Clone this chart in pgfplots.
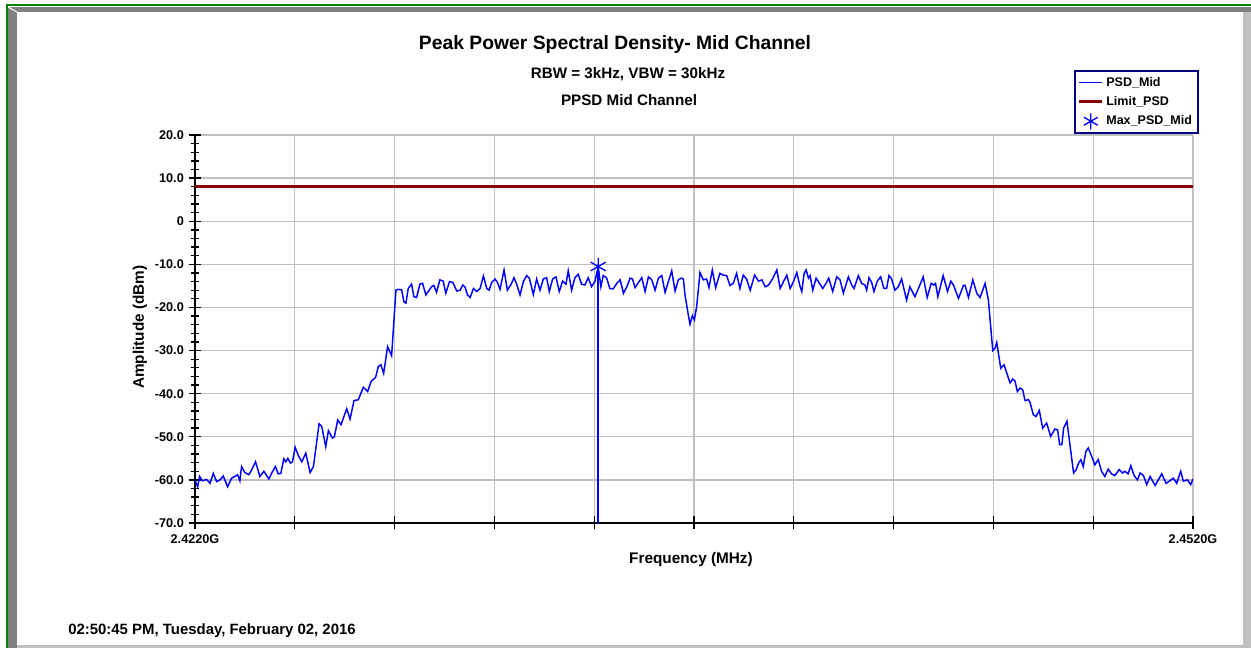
\documentclass[border=0pt]{standalone}
\usepackage{pgfplots}
\pgfplotsset{compat=1.18}
\usepackage{fontspec}
\setmainfont{Liberation Sans}
\definecolor{frgreen}{RGB}{0,128,0}
\definecolor{bevel}{RGB}{128,128,128}
\definecolor{lgray}{RGB}{192,192,192}
\definecolor{limred}{RGB}{139,0,0}
\definecolor{navyb}{RGB}{0,0,128}
\newcommand\fs[1]{\fontsize{#1}{#1}\selectfont}
\begin{document}
\begin{tikzpicture}[x=0.75pt,y=0.75pt]
\useasboundingbox (0,0) rectangle (1251,648);
\fill[white] (0,0) rectangle (1251,648);
\fill[bevel] (8,636) rectangle (1251,641);
\fill[bevel] (8,0) rectangle (17,641);
\fill[lgray] (1243,0) rectangle (1251,636);
\fill[lgray] (17,0) rectangle (1243,2.5);
\draw[white,line width=0.75pt] (8,641) -- (17,636);
\draw[frgreen,line width=1.5pt] (7,0) -- (7,643) -- (1251,643);
\node[font=\bfseries\fs{14.5}] at (615,603) {Peak Power Spectral Density- Mid Channel};
\node[font=\bfseries\fs{11.4}] at (628,574) {RBW = 3kHz, VBW = 30kHz};
\node[font=\bfseries\fs{11.4}] at (629,548) {PPSD Mid Channel};
\node[font=\bfseries\fs{11.2}, anchor=west, inner sep=0pt] at (68,17) {02:50:45 PM, Tuesday, February 02, 2016};
\begin{axis}[
  at={(146.25pt,93.75pt)}, anchor=south west,
  scale only axis, width=748.5pt, height=291pt,
  xmin=2422, xmax=2452, ymin=-70, ymax=20,
  axis x line*=bottom, axis y line*=left,
  axis line style={black, line width=1pt, -},
  xtick={2422,2425,2428,2431,2434,2437,2440,2443,2446,2449,2452},
  xticklabels={2.4220G,,,,,,,,,,2.4520G},
  ytick={-70,-60,-50,-40,-30,-20,-10,0,10,20},
  yticklabels={-70.0,-60.0,-50.0,-40.0,-30.0,-20.0,-10.0,0,10.0,20.0},
  minor y tick num=4,
  tick align=center,
  major tick length=9.75pt, minor tick length=6.5pt,
  tick style={black, line width=1pt},
  grid=major, major grid style={lgray, line width=1pt},
  tick label style={font=\bfseries\fs{9.5}},
  xlabel={Frequency (MHz)},
  ylabel={Amplitude (dBm)},
  xlabel style={at={(axis description cs:0.497,-0.093)}, anchor=center, font=\bfseries\fs{11.5}},
  ylabel style={at={(axis description cs:-0.0551,0.505)}, anchor=center, font=\bfseries\fs{11.5}},
  legend style={at={(axis description cs:1.006,1.1675)}, anchor=north east, draw=navyb, line width=1.5pt, fill=white, font=\bfseries\fs{9.4}, row sep=2.2pt, inner sep=2.5pt, cells={anchor=west}},
]
\addplot[blue, line width=1.1pt] coordinates {
(2422.00,-60.0) (2422.08,-61.6) (2422.14,-59.2) (2422.22,-60.2) (2422.35,-59.9) (2422.45,-60.8)
(2422.55,-58.5) (2422.65,-60.4) (2422.75,-60.0) (2422.85,-59.1) (2422.98,-61.6) (2423.10,-59.6)
(2423.20,-59.2) (2423.28,-58.8) (2423.35,-60.2) (2423.40,-56.9) (2423.50,-58.3) (2423.62,-58.8)
(2423.70,-57.7) (2423.82,-55.8) (2423.95,-59.2) (2424.07,-58.0) (2424.22,-59.8) (2424.32,-58.2)
(2424.42,-56.9) (2424.50,-58.6) (2424.58,-58.5) (2424.67,-55.1) (2424.73,-55.8) (2424.79,-55.0)
(2424.87,-56.1) (2424.93,-55.8) (2425.01,-52.4) (2425.11,-54.4) (2425.21,-55.8) (2425.33,-53.8)
(2425.46,-58.3) (2425.56,-56.9) (2425.73,-47.0) (2425.81,-47.6) (2425.93,-52.3) (2426.01,-48.6)
(2426.13,-50.3) (2426.19,-50.0) (2426.29,-46.1) (2426.39,-47.2) (2426.56,-43.5) (2426.66,-45.9)
(2426.78,-41.6) (2426.91,-41.4) (2427.06,-38.5) (2427.19,-39.5) (2427.29,-37.2) (2427.43,-36.2)
(2427.51,-33.7) (2427.59,-33.3) (2427.67,-35.3) (2427.79,-29.1) (2427.91,-31.2) (2428.04,-16.0)
(2428.11,-15.8) (2428.21,-15.9) (2428.28,-18.7) (2428.34,-19.0) (2428.41,-15.6) (2428.51,-14.6)
(2428.58,-17.5) (2428.66,-17.7) (2428.76,-14.6) (2428.84,-14.4) (2428.94,-17.1) (2429.04,-16.0)
(2429.11,-15.2) (2429.18,-14.9) (2429.26,-16.5) (2429.36,-13.6) (2429.46,-13.9) (2429.54,-16.7)
(2429.65,-14.0) (2429.75,-14.2) (2429.87,-16.2) (2429.97,-16.0) (2430.05,-14.8) (2430.12,-15.3)
(2430.19,-17.1) (2430.27,-17.7) (2430.37,-15.6) (2430.47,-16.3) (2430.57,-15.6) (2430.67,-12.7)
(2430.77,-15.6) (2430.84,-16.0) (2430.92,-14.2) (2431.02,-13.4) (2431.09,-14.2) (2431.17,-15.8)
(2431.29,-11.3) (2431.39,-16.0) (2431.49,-14.8) (2431.59,-13.1) (2431.67,-14.6) (2431.77,-17.1)
(2431.87,-14.0) (2431.97,-12.6) (2432.05,-13.2) (2432.17,-17.0) (2432.27,-13.4) (2432.37,-16.0)
(2432.47,-13.4) (2432.57,-13.1) (2432.65,-16.3) (2432.75,-13.4) (2432.85,-12.9) (2432.95,-16.3)
(2433.05,-13.9) (2433.15,-14.6) (2433.22,-11.5) (2433.32,-16.0) (2433.42,-13.1) (2433.52,-12.3)
(2433.62,-14.6) (2433.72,-14.8) (2433.82,-13.1) (2433.92,-15.2) (2434.02,-14.0) (2434.12,-10.5)
(2434.20,-15.2) (2434.27,-12.6) (2434.37,-13.1) (2434.47,-15.6) (2434.57,-15.7) (2434.68,-14.4)
(2434.78,-13.6) (2434.88,-16.7) (2434.98,-15.2) (2435.08,-13.2) (2435.15,-13.4) (2435.23,-15.4)
(2435.33,-14.2) (2435.43,-13.1) (2435.53,-16.3) (2435.63,-12.9) (2435.73,-13.6) (2435.83,-16.0)
(2435.93,-13.2) (2436.03,-12.6) (2436.13,-16.5) (2436.23,-14.0) (2436.33,-11.5) (2436.43,-16.2)
(2436.53,-13.6) (2436.61,-13.2) (2436.68,-13.4) (2436.73,-17.1) (2436.83,-21.8) (2436.88,-23.9)
(2436.95,-21.9) (2437.01,-22.9) (2437.08,-19.8) (2437.18,-11.9) (2437.28,-13.6) (2437.38,-13.4)
(2437.45,-15.4) (2437.55,-11.3) (2437.65,-15.4) (2437.78,-12.1) (2437.88,-12.5) (2437.98,-12.6)
(2438.08,-14.9) (2438.18,-14.4) (2438.28,-12.1) (2438.38,-15.6) (2438.48,-12.5) (2438.58,-13.4)
(2438.69,-16.0) (2438.82,-12.5) (2438.94,-13.9) (2439.04,-13.6) (2439.14,-15.2) (2439.24,-14.8)
(2439.36,-13.4) (2439.49,-11.3) (2439.59,-15.6) (2439.69,-14.0) (2439.79,-12.5) (2439.89,-15.6)
(2439.99,-14.0) (2440.09,-11.9) (2440.19,-15.2) (2440.24,-16.3) (2440.31,-12.1) (2440.37,-11.3)
(2440.44,-13.2) (2440.49,-12.6) (2440.57,-16.0) (2440.67,-13.2) (2440.77,-14.4) (2440.87,-15.6)
(2440.97,-14.4) (2441.05,-13.2) (2441.17,-16.3) (2441.29,-12.9) (2441.39,-13.6) (2441.49,-16.7)
(2441.64,-12.9) (2441.74,-14.8) (2441.81,-15.6) (2441.94,-12.6) (2442.04,-14.4) (2442.14,-14.8)
(2442.19,-16.0) (2442.26,-13.1) (2442.34,-14.2) (2442.41,-16.3) (2442.51,-13.9) (2442.61,-12.9)
(2442.71,-15.6) (2442.79,-15.6) (2442.86,-12.6) (2442.94,-13.4) (2443.04,-16.0) (2443.14,-15.2)
(2443.24,-13.4) (2443.39,-18.3) (2443.49,-15.2) (2443.64,-17.5) (2443.79,-14.8) (2443.89,-12.9)
(2444.01,-17.7) (2444.13,-14.4) (2444.21,-14.8) (2444.26,-14.4) (2444.33,-17.5) (2444.49,-12.6)
(2444.62,-16.3) (2444.72,-13.9) (2444.80,-14.8) (2444.95,-17.9) (2445.10,-14.9) (2445.15,-14.9)
(2445.25,-17.7) (2445.38,-13.6) (2445.50,-16.7) (2445.60,-17.7) (2445.75,-14.4) (2445.85,-18.3)
(2445.98,-30.0) (2446.05,-29.4) (2446.10,-28.1) (2446.22,-34.1) (2446.32,-33.3) (2446.40,-35.2)
(2446.50,-37.5) (2446.58,-36.6) (2446.65,-37.1) (2446.72,-39.5) (2446.80,-38.7) (2446.88,-39.1)
(2446.95,-41.6) (2447.05,-41.4) (2447.10,-42.0) (2447.20,-44.9) (2447.28,-45.3) (2447.38,-43.9)
(2447.48,-48.0) (2447.60,-46.8) (2447.72,-49.9) (2447.85,-48.2) (2447.93,-48.4) (2447.99,-51.8)
(2448.06,-51.8) (2448.11,-48.0) (2448.21,-46.4) (2448.41,-58.4) (2448.49,-57.6) (2448.56,-56.1)
(2448.63,-55.3) (2448.70,-56.9) (2448.78,-53.4) (2448.85,-52.6) (2448.95,-54.5) (2449.05,-56.5)
(2449.15,-55.3) (2449.25,-58.0) (2449.35,-59.2) (2449.45,-57.5) (2449.55,-58.6) (2449.65,-59.0)
(2449.78,-57.6) (2449.88,-58.4) (2449.95,-58.0) (2450.05,-58.6) (2450.13,-56.7) (2450.23,-59.0)
(2450.33,-60.0) (2450.41,-58.4) (2450.51,-59.0) (2450.61,-61.1) (2450.71,-59.2) (2450.86,-61.3)
(2451.06,-58.6) (2451.19,-60.8) (2451.29,-60.3) (2451.41,-59.6) (2451.51,-60.8) (2451.63,-58.0)
(2451.71,-60.3) (2451.83,-60.0) (2451.93,-61.1) (2452.00,-59.8)
};
\addlegendentry{PSD\_Mid}
\addplot[limred, line width=2.2pt] coordinates {(2422,8) (2452,8)};
\addlegendentry{Limit\_PSD}
\addplot[blue, only marks, mark=asterisk, mark size=6.5pt, mark options={line width=1pt},
  legend image code/.code={\draw[blue, line width=1pt, mark=asterisk, mark size=6pt] plot coordinates {(0.3cm,0cm)};}] coordinates {(2434.12,-10.5)};
\addlegendentry{Max\_PSD\_Mid}
\addplot[blue, line width=1.1pt, forget plot] coordinates {(2434.12,-10.5) (2434.12,-70)};
\end{axis}
\end{tikzpicture}
\end{document}
